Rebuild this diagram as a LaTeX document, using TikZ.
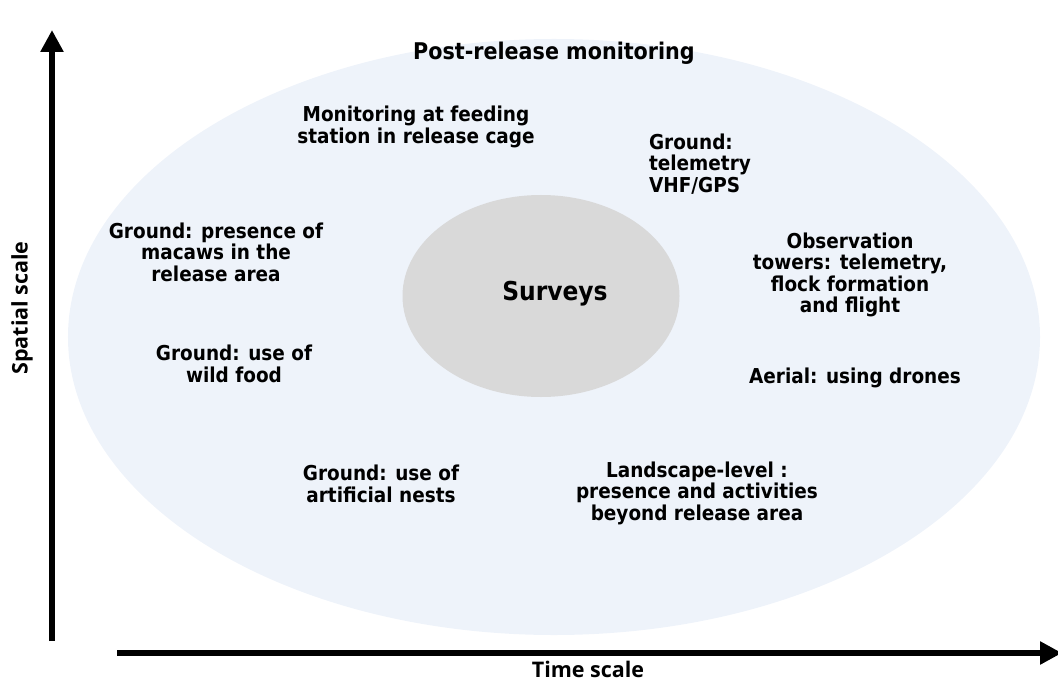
\documentclass[tikz,border=0pt]{standalone}
\usepackage{fontspec}
\usetikzlibrary{arrows.meta,shapes.geometric}
\newfontfamily\lblfont{DejaVu Sans Condensed}
\newfontfamily\axfont{Open Sans}
\definecolor{outerfill}{HTML}{EEF3FA}
\definecolor{innerfill}{HTML}{D9D9D9}
\begin{document}
\begin{tikzpicture}[x=1bp,y=-1bp,
  lbl/.style={font=\lblfont\bfseries\fontsize{20.5bp}{21.5bp}\selectfont, align=center, inner sep=0pt},
  axlbl/.style={font=\axfont\bfseries\fontsize{21.5bp}{25bp}\selectfont, inner sep=0pt},
  axis/.style={line width=6bp, -{Triangle[length=22bp,width=22bp]}}]
\useasboundingbox (0,0) rectangle (1058,683);
\node[ellipse, fill=outerfill, minimum width=972bp, minimum height=596bp, inner sep=0pt] (outer) at (554,337) {};
\node[ellipse, fill=innerfill, minimum width=277bp, minimum height=202bp, inner sep=0pt] (surv) at (541,296) {};
\node[font=\lblfont\bfseries\fontsize{26bp}{30bp}\selectfont] (survt) at (555,294) {Surveys};
\node[font=\lblfont\bfseries\fontsize{23bp}{26bp}\selectfont] (post) at (554,53) {Post-release monitoring};
\node[lbl] (feed) at (416,127) {Monitoring at feeding\\station in release cage};
\node[lbl, align=left] (tele) at (700,164) {Ground:\\telemetry\\VHF/GPS};
\node[lbl] (pres) at (216,252) {Ground: presence of\\macaws in the\\release area};
\node[lbl] (obs) at (850,275) {Observation\\towers: telemetry,\\flock formation\\and flight};
\node[lbl] (wild) at (234,364) {Ground: use of\\wild food};
\node[lbl] (aer) at (855,378) {Aerial: using drones};
\node[lbl] (nest) at (381,484) {Ground: use of\\artificial nests};
\node[lbl] (land) at (697,493) {Landscape-level :\\presence and activities\\beyond release area};
\coordinate (yb) at (52,641);
\coordinate (yt) at (52,30);
\coordinate (xl) at (117,653);
\coordinate (xr) at (1062,653);
\draw[axis] (yb) -- (yt);
\draw[axis] (xl) -- (xr);
\node[axlbl, rotate=90] (ylab) at (22,308) {Spatial scale};
\node[axlbl] (xlab) at (588,669) {Time scale};
\end{tikzpicture}
\end{document}
